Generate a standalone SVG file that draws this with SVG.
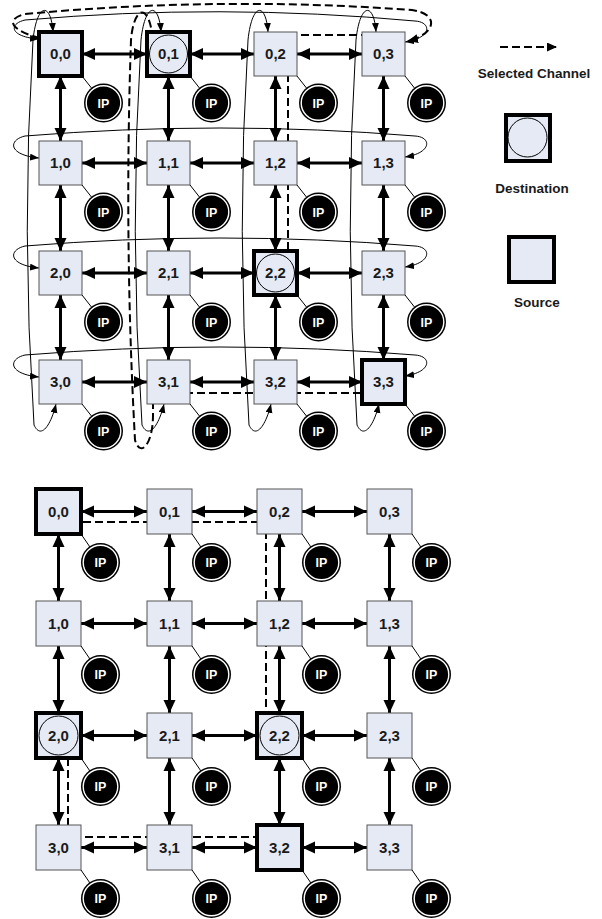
<svg xmlns="http://www.w3.org/2000/svg" width="602" height="919" viewBox="0 0 602 919">
<style>
.n{fill:#e5eaf5;stroke:#555;stroke-width:1}
.s{fill:#e5eaf5;stroke:#000;stroke-width:4}
.lb{font-family:"Liberation Sans",Arial,sans-serif;font-weight:bold;font-size:15px;fill:#1a1a1a;text-anchor:middle}
.ipt{font-family:"Liberation Sans",Arial,sans-serif;font-weight:bold;font-size:12.5px;fill:#fff;text-anchor:middle}
.ipo{fill:#000}
.ipr{fill:none;stroke:#fff;stroke-width:1.4}
.ld{stroke:#000;stroke-width:1;fill:none}
.dc{fill:none;stroke:#000;stroke-width:1}
.ba{stroke:#000;stroke-width:3;fill:none;marker-start:url(#ah);marker-end:url(#ah)}
.wr{stroke:#000;stroke-width:1;fill:none;marker-start:url(#sa);marker-end:url(#sa)}
.ds{stroke:#000;stroke-width:2;fill:none;stroke-dasharray:8 4;marker-end:url(#da)}
.lg{font-family:"Liberation Sans",Arial,sans-serif;font-weight:bold;font-size:13.5px;fill:#1a1a1a;text-anchor:middle}
</style>
<defs>
<marker id="ah" markerUnits="userSpaceOnUse" markerWidth="14" markerHeight="14" refX="13" refY="6.5" orient="auto-start-reverse"><path d="M0,0.5 L13,6.5 L0,12.5 z" fill="#000"/></marker>
<marker id="sa" markerUnits="userSpaceOnUse" markerWidth="10" markerHeight="8" refX="9" refY="3.5" orient="auto-start-reverse"><path d="M0,0 L9,3.5 L0,7 z" fill="#000"/></marker>
<marker id="da" markerUnits="userSpaceOnUse" markerWidth="11" markerHeight="10" refX="10" refY="4.5" orient="auto"><path d="M0,0 L10,4.5 L0,9 z" fill="#000"/></marker>
</defs>
<rect width="602" height="919" fill="#fff"/>

<g id="connectors">
<!-- top torus: horizontal -->
<path class="ba" d="M82,54 H147"/><path class="ba" d="M190,54 H254"/><path class="ba" d="M297,54 H362"/>
<path class="ba" d="M82,163 H147"/><path class="ba" d="M190,163 H254"/><path class="ba" d="M297,163 H362"/>
<path class="ba" d="M82,273 H147"/><path class="ba" d="M190,273 H254"/><path class="ba" d="M297,273 H362"/>
<path class="ba" d="M82,382 H147"/><path class="ba" d="M190,382 H254"/><path class="ba" d="M297,382 H362"/>
<!-- top torus: vertical -->
<path class="ba" d="M60.5,76 V141"/><path class="ba" d="M60.5,185 V251"/><path class="ba" d="M60.5,295 V360"/>
<path class="ba" d="M168.5,76 V141"/><path class="ba" d="M168.5,185 V251"/><path class="ba" d="M168.5,295 V360"/>
<path class="ba" d="M275.5,76 V141"/><path class="ba" d="M275.5,185 V251"/><path class="ba" d="M275.5,295 V360"/>
<path class="ba" d="M383.5,76 V141"/><path class="ba" d="M383.5,185 V251"/><path class="ba" d="M383.5,295 V360"/>
<!-- top torus: row wraps -->
<path class="wr" d="M405,42 C432,38 432,22 415,21 Q220,3 25,20 C8,24 10,37 39,39"/>
<path class="wr" d="M405,157 C432,153 432,137 415,136 Q220,120 25,136 C8,140 8,155 39,158"/>
<path class="wr" d="M405,267 C432,263 432,247 415,246 Q220,230 25,246 C8,250 8,265 39,268"/>
<path class="wr" d="M405,376 C432,372 432,356 415,355 Q220,339 25,355 C8,359 8,374 39,377"/>
<!-- top torus: column wraps -->
<path class="wr" d="M56,404 C51,425 41,440 34,425 Q21,230 33,40 C37,2 51,2 53,32"/>
<path class="wr" d="M164,404 C159,425 149,440 142,425 Q129,230 141,40 C145,2 159,2 161,32"/>
<path class="wr" d="M271,404 C266,425 256,440 249,425 Q236,230 248,40 C252,2 266,2 268,32"/>
<path class="wr" d="M379,404 C374,425 364,440 357,425 Q344,230 356,40 C360,2 374,2 376,32"/>
<!-- top selected channels -->
<path class="ds" d="M40,38 C15,32 2,20 25,14 Q220,-4 412,10 C440,14 436,34 408,41"/>
<path class="ds" d="M405,35 H288 V268"/>
<path class="ds" d="M373,393 H153 V415 C153,445 140,458 135,440 Q124,240 131,40 C134,4 150,2 153,42"/>
<!-- bottom mesh: horizontal -->
<path class="ba" d="M81,511.5 H147"/><path class="ba" d="M192,511.5 H257"/><path class="ba" d="M302,511.5 H367"/>
<path class="ba" d="M81,623.5 H147"/><path class="ba" d="M192,623.5 H257"/><path class="ba" d="M302,623.5 H367"/>
<path class="ba" d="M81,735.5 H147"/><path class="ba" d="M192,735.5 H257"/><path class="ba" d="M302,735.5 H367"/>
<path class="ba" d="M81,847.5 H147"/><path class="ba" d="M192,847.5 H257"/><path class="ba" d="M302,847.5 H367"/>
<!-- bottom mesh: vertical -->
<path class="ba" d="M58.5,534 V601"/><path class="ba" d="M58.5,646 V713"/><path class="ba" d="M58.5,758 V825"/>
<path class="ba" d="M169.5,534 V601"/><path class="ba" d="M169.5,646 V713"/><path class="ba" d="M169.5,758 V825"/>
<path class="ba" d="M279.5,534 V601"/><path class="ba" d="M279.5,646 V713"/><path class="ba" d="M279.5,758 V825"/>
<path class="ba" d="M389.5,534 V601"/><path class="ba" d="M389.5,646 V713"/><path class="ba" d="M389.5,758 V825"/>
<!-- bottom selected channels -->
<path class="ds" d="M59,522 H266 V728"/>
<path class="ds" d="M273,837 H68 V742"/>
</g>

<!-- top torus nodes -->
<g id="t00"><rect class="s" x="39" y="32" width="43" height="44"/><text class="lb" x="60.5" y="59">0,0</text><line class="ld" x1="82" y1="76" x2="91.7" y2="88.3"/><circle class="ipo" cx="103.5" cy="103" r="19.5"/><circle class="ipr" cx="103.5" cy="103" r="17.3"/><text class="ipt" x="103.5" y="107.5">IP</text></g>
<g id="t01"><rect class="s" x="147" y="32" width="43" height="44"/><circle class="dc" cx="168.5" cy="54" r="19"/><text class="lb" x="168.5" y="59">0,1</text><line class="ld" x1="190" y1="76" x2="199.7" y2="88.3"/><circle class="ipo" cx="211.5" cy="103" r="19.5"/><circle class="ipr" cx="211.5" cy="103" r="17.3"/><text class="ipt" x="211.5" y="107.5">IP</text></g>
<g id="t02"><rect class="n" x="254" y="32" width="43" height="44"/><text class="lb" x="275.5" y="59">0,2</text><line class="ld" x1="297" y1="76" x2="306.7" y2="88.3"/><circle class="ipo" cx="318.5" cy="103" r="19.5"/><circle class="ipr" cx="318.5" cy="103" r="17.3"/><text class="ipt" x="318.5" y="107.5">IP</text></g>
<g id="t03"><rect class="n" x="362" y="32" width="43" height="44"/><text class="lb" x="383.5" y="59">0,3</text><line class="ld" x1="405" y1="76" x2="414.7" y2="88.3"/><circle class="ipo" cx="426.5" cy="103" r="19.5"/><circle class="ipr" cx="426.5" cy="103" r="17.3"/><text class="ipt" x="426.5" y="107.5">IP</text></g>

<g id="t10"><rect class="n" x="39" y="141" width="43" height="44"/><text class="lb" x="60.5" y="168">1,0</text><line class="ld" x1="82" y1="185" x2="91.7" y2="197.3"/><circle class="ipo" cx="103.5" cy="212" r="19.5"/><circle class="ipr" cx="103.5" cy="212" r="17.3"/><text class="ipt" x="103.5" y="216.5">IP</text></g>
<g id="t11"><rect class="n" x="147" y="141" width="43" height="44"/><text class="lb" x="168.5" y="168">1,1</text><line class="ld" x1="190" y1="185" x2="199.7" y2="197.3"/><circle class="ipo" cx="211.5" cy="212" r="19.5"/><circle class="ipr" cx="211.5" cy="212" r="17.3"/><text class="ipt" x="211.5" y="216.5">IP</text></g>
<g id="t12"><rect class="n" x="254" y="141" width="43" height="44"/><text class="lb" x="275.5" y="168">1,2</text><line class="ld" x1="297" y1="185" x2="306.7" y2="197.3"/><circle class="ipo" cx="318.5" cy="212" r="19.5"/><circle class="ipr" cx="318.5" cy="212" r="17.3"/><text class="ipt" x="318.5" y="216.5">IP</text></g>
<g id="t13"><rect class="n" x="362" y="141" width="43" height="44"/><text class="lb" x="383.5" y="168">1,3</text><line class="ld" x1="405" y1="185" x2="414.7" y2="197.3"/><circle class="ipo" cx="426.5" cy="212" r="19.5"/><circle class="ipr" cx="426.5" cy="212" r="17.3"/><text class="ipt" x="426.5" y="216.5">IP</text></g>

<g id="t20"><rect class="n" x="39" y="251" width="43" height="44"/><text class="lb" x="60.5" y="278">2,0</text><line class="ld" x1="82" y1="295" x2="91.7" y2="307.3"/><circle class="ipo" cx="103.5" cy="322" r="19.5"/><circle class="ipr" cx="103.5" cy="322" r="17.3"/><text class="ipt" x="103.5" y="326.5">IP</text></g>
<g id="t21"><rect class="n" x="147" y="251" width="43" height="44"/><text class="lb" x="168.5" y="278">2,1</text><line class="ld" x1="190" y1="295" x2="199.7" y2="307.3"/><circle class="ipo" cx="211.5" cy="322" r="19.5"/><circle class="ipr" cx="211.5" cy="322" r="17.3"/><text class="ipt" x="211.5" y="326.5">IP</text></g>
<g id="t22"><rect class="s" x="254" y="251" width="43" height="44"/><circle class="dc" cx="275.5" cy="273" r="19"/><text class="lb" x="275.5" y="278">2,2</text><line class="ld" x1="297" y1="295" x2="306.7" y2="307.3"/><circle class="ipo" cx="318.5" cy="322" r="19.5"/><circle class="ipr" cx="318.5" cy="322" r="17.3"/><text class="ipt" x="318.5" y="326.5">IP</text></g>
<g id="t23"><rect class="n" x="362" y="251" width="43" height="44"/><text class="lb" x="383.5" y="278">2,3</text><line class="ld" x1="405" y1="295" x2="414.7" y2="307.3"/><circle class="ipo" cx="426.5" cy="322" r="19.5"/><circle class="ipr" cx="426.5" cy="322" r="17.3"/><text class="ipt" x="426.5" y="326.5">IP</text></g>

<g id="t30"><rect class="n" x="39" y="360" width="43" height="44"/><text class="lb" x="60.5" y="387">3,0</text><line class="ld" x1="82" y1="404" x2="91.7" y2="416.3"/><circle class="ipo" cx="103.5" cy="431" r="19.5"/><circle class="ipr" cx="103.5" cy="431" r="17.3"/><text class="ipt" x="103.5" y="435.5">IP</text></g>
<g id="t31"><rect class="n" x="147" y="360" width="43" height="44"/><text class="lb" x="168.5" y="387">3,1</text><line class="ld" x1="190" y1="404" x2="199.7" y2="416.3"/><circle class="ipo" cx="211.5" cy="431" r="19.5"/><circle class="ipr" cx="211.5" cy="431" r="17.3"/><text class="ipt" x="211.5" y="435.5">IP</text></g>
<g id="t32"><rect class="n" x="254" y="360" width="43" height="44"/><text class="lb" x="275.5" y="387">3,2</text><line class="ld" x1="297" y1="404" x2="306.7" y2="416.3"/><circle class="ipo" cx="318.5" cy="431" r="19.5"/><circle class="ipr" cx="318.5" cy="431" r="17.3"/><text class="ipt" x="318.5" y="435.5">IP</text></g>
<g id="t33"><rect class="s" x="362" y="360" width="43" height="44"/><text class="lb" x="383.5" y="387">3,3</text><line class="ld" x1="405" y1="404" x2="414.7" y2="416.3"/><circle class="ipo" cx="426.5" cy="431" r="19.5"/><circle class="ipr" cx="426.5" cy="431" r="17.3"/><text class="ipt" x="426.5" y="435.5">IP</text></g>

<!-- bottom mesh nodes -->
<g id="b00"><rect class="s" x="36" y="489" width="45" height="45"/><text class="lb" x="58.5" y="516.5">0,0</text><line class="ld" x1="81" y1="534" x2="89.8" y2="546.8"/><circle class="ipo" cx="100.5" cy="562.5" r="19.5"/><circle class="ipr" cx="100.5" cy="562.5" r="17.3"/><text class="ipt" x="100.5" y="567">IP</text></g>
<g id="b01"><rect class="n" x="147" y="489" width="45" height="45"/><text class="lb" x="169.5" y="516.5">0,1</text><line class="ld" x1="192" y1="534" x2="200.8" y2="546.8"/><circle class="ipo" cx="211.5" cy="562.5" r="19.5"/><circle class="ipr" cx="211.5" cy="562.5" r="17.3"/><text class="ipt" x="211.5" y="567">IP</text></g>
<g id="b02"><rect class="n" x="257" y="489" width="45" height="45"/><text class="lb" x="279.5" y="516.5">0,2</text><line class="ld" x1="302" y1="534" x2="310.8" y2="546.8"/><circle class="ipo" cx="321.5" cy="562.5" r="19.5"/><circle class="ipr" cx="321.5" cy="562.5" r="17.3"/><text class="ipt" x="321.5" y="567">IP</text></g>
<g id="b03"><rect class="n" x="367" y="489" width="45" height="45"/><text class="lb" x="389.5" y="516.5">0,3</text><line class="ld" x1="412" y1="534" x2="420.8" y2="546.8"/><circle class="ipo" cx="431.5" cy="562.5" r="19.5"/><circle class="ipr" cx="431.5" cy="562.5" r="17.3"/><text class="ipt" x="431.5" y="567">IP</text></g>

<g id="b10"><rect class="n" x="36" y="601" width="45" height="45"/><text class="lb" x="58.5" y="628.5">1,0</text><line class="ld" x1="81" y1="646" x2="89.8" y2="658.8"/><circle class="ipo" cx="100.5" cy="674.5" r="19.5"/><circle class="ipr" cx="100.5" cy="674.5" r="17.3"/><text class="ipt" x="100.5" y="679">IP</text></g>
<g id="b11"><rect class="n" x="147" y="601" width="45" height="45"/><text class="lb" x="169.5" y="628.5">1,1</text><line class="ld" x1="192" y1="646" x2="200.8" y2="658.8"/><circle class="ipo" cx="211.5" cy="674.5" r="19.5"/><circle class="ipr" cx="211.5" cy="674.5" r="17.3"/><text class="ipt" x="211.5" y="679">IP</text></g>
<g id="b12"><rect class="n" x="257" y="601" width="45" height="45"/><text class="lb" x="279.5" y="628.5">1,2</text><line class="ld" x1="302" y1="646" x2="310.8" y2="658.8"/><circle class="ipo" cx="321.5" cy="674.5" r="19.5"/><circle class="ipr" cx="321.5" cy="674.5" r="17.3"/><text class="ipt" x="321.5" y="679">IP</text></g>
<g id="b13"><rect class="n" x="367" y="601" width="45" height="45"/><text class="lb" x="389.5" y="628.5">1,3</text><line class="ld" x1="412" y1="646" x2="420.8" y2="658.8"/><circle class="ipo" cx="431.5" cy="674.5" r="19.5"/><circle class="ipr" cx="431.5" cy="674.5" r="17.3"/><text class="ipt" x="431.5" y="679">IP</text></g>

<g id="b20"><rect class="s" x="36" y="713" width="45" height="45"/><circle class="dc" cx="58.5" cy="735.5" r="19.5"/><text class="lb" x="58.5" y="740.5">2,0</text><line class="ld" x1="81" y1="758" x2="89.8" y2="770.8"/><circle class="ipo" cx="100.5" cy="786.5" r="19.5"/><circle class="ipr" cx="100.5" cy="786.5" r="17.3"/><text class="ipt" x="100.5" y="791">IP</text></g>
<g id="b21"><rect class="n" x="147" y="713" width="45" height="45"/><text class="lb" x="169.5" y="740.5">2,1</text><line class="ld" x1="192" y1="758" x2="200.8" y2="770.8"/><circle class="ipo" cx="211.5" cy="786.5" r="19.5"/><circle class="ipr" cx="211.5" cy="786.5" r="17.3"/><text class="ipt" x="211.5" y="791">IP</text></g>
<g id="b22"><rect class="s" x="257" y="713" width="45" height="45"/><circle class="dc" cx="279.5" cy="735.5" r="19.5"/><text class="lb" x="279.5" y="740.5">2,2</text><line class="ld" x1="302" y1="758" x2="310.8" y2="770.8"/><circle class="ipo" cx="321.5" cy="786.5" r="19.5"/><circle class="ipr" cx="321.5" cy="786.5" r="17.3"/><text class="ipt" x="321.5" y="791">IP</text></g>
<g id="b23"><rect class="n" x="367" y="713" width="45" height="45"/><text class="lb" x="389.5" y="740.5">2,3</text><line class="ld" x1="412" y1="758" x2="420.8" y2="770.8"/><circle class="ipo" cx="431.5" cy="786.5" r="19.5"/><circle class="ipr" cx="431.5" cy="786.5" r="17.3"/><text class="ipt" x="431.5" y="791">IP</text></g>

<g id="b30"><rect class="n" x="36" y="825" width="45" height="45"/><text class="lb" x="58.5" y="852.5">3,0</text><line class="ld" x1="81" y1="870" x2="89.8" y2="882.8"/><circle class="ipo" cx="100.5" cy="898.5" r="19.5"/><circle class="ipr" cx="100.5" cy="898.5" r="17.3"/><text class="ipt" x="100.5" y="903">IP</text></g>
<g id="b31"><rect class="n" x="147" y="825" width="45" height="45"/><text class="lb" x="169.5" y="852.5">3,1</text><line class="ld" x1="192" y1="870" x2="200.8" y2="882.8"/><circle class="ipo" cx="211.5" cy="898.5" r="19.5"/><circle class="ipr" cx="211.5" cy="898.5" r="17.3"/><text class="ipt" x="211.5" y="903">IP</text></g>
<g id="b32"><rect class="s" x="257" y="825" width="45" height="45"/><text class="lb" x="279.5" y="852.5">3,2</text><line class="ld" x1="302" y1="870" x2="310.8" y2="882.8"/><circle class="ipo" cx="321.5" cy="898.5" r="19.5"/><circle class="ipr" cx="321.5" cy="898.5" r="17.3"/><text class="ipt" x="321.5" y="903">IP</text></g>
<g id="b33"><rect class="n" x="367" y="825" width="45" height="45"/><text class="lb" x="389.5" y="852.5">3,3</text><line class="ld" x1="412" y1="870" x2="420.8" y2="882.8"/><circle class="ipo" cx="431.5" cy="898.5" r="19.5"/><circle class="ipr" cx="431.5" cy="898.5" r="17.3"/><text class="ipt" x="431.5" y="903">IP</text></g>

<!-- legend -->
<g id="legend-channel"><path class="ds" d="M500,47 H557"/><text class="lg" x="534" y="78">Selected Channel</text></g>
<g id="legend-destination"><rect class="s" x="506" y="115" width="44" height="46"/><circle class="dc" cx="527.5" cy="137.5" r="19.5"/><text class="lg" x="532" y="193">Destination</text></g>
<g id="legend-source"><rect class="s" x="509" y="237" width="45" height="45"/><text class="lg" x="537" y="307">Source</text></g>
</svg>
